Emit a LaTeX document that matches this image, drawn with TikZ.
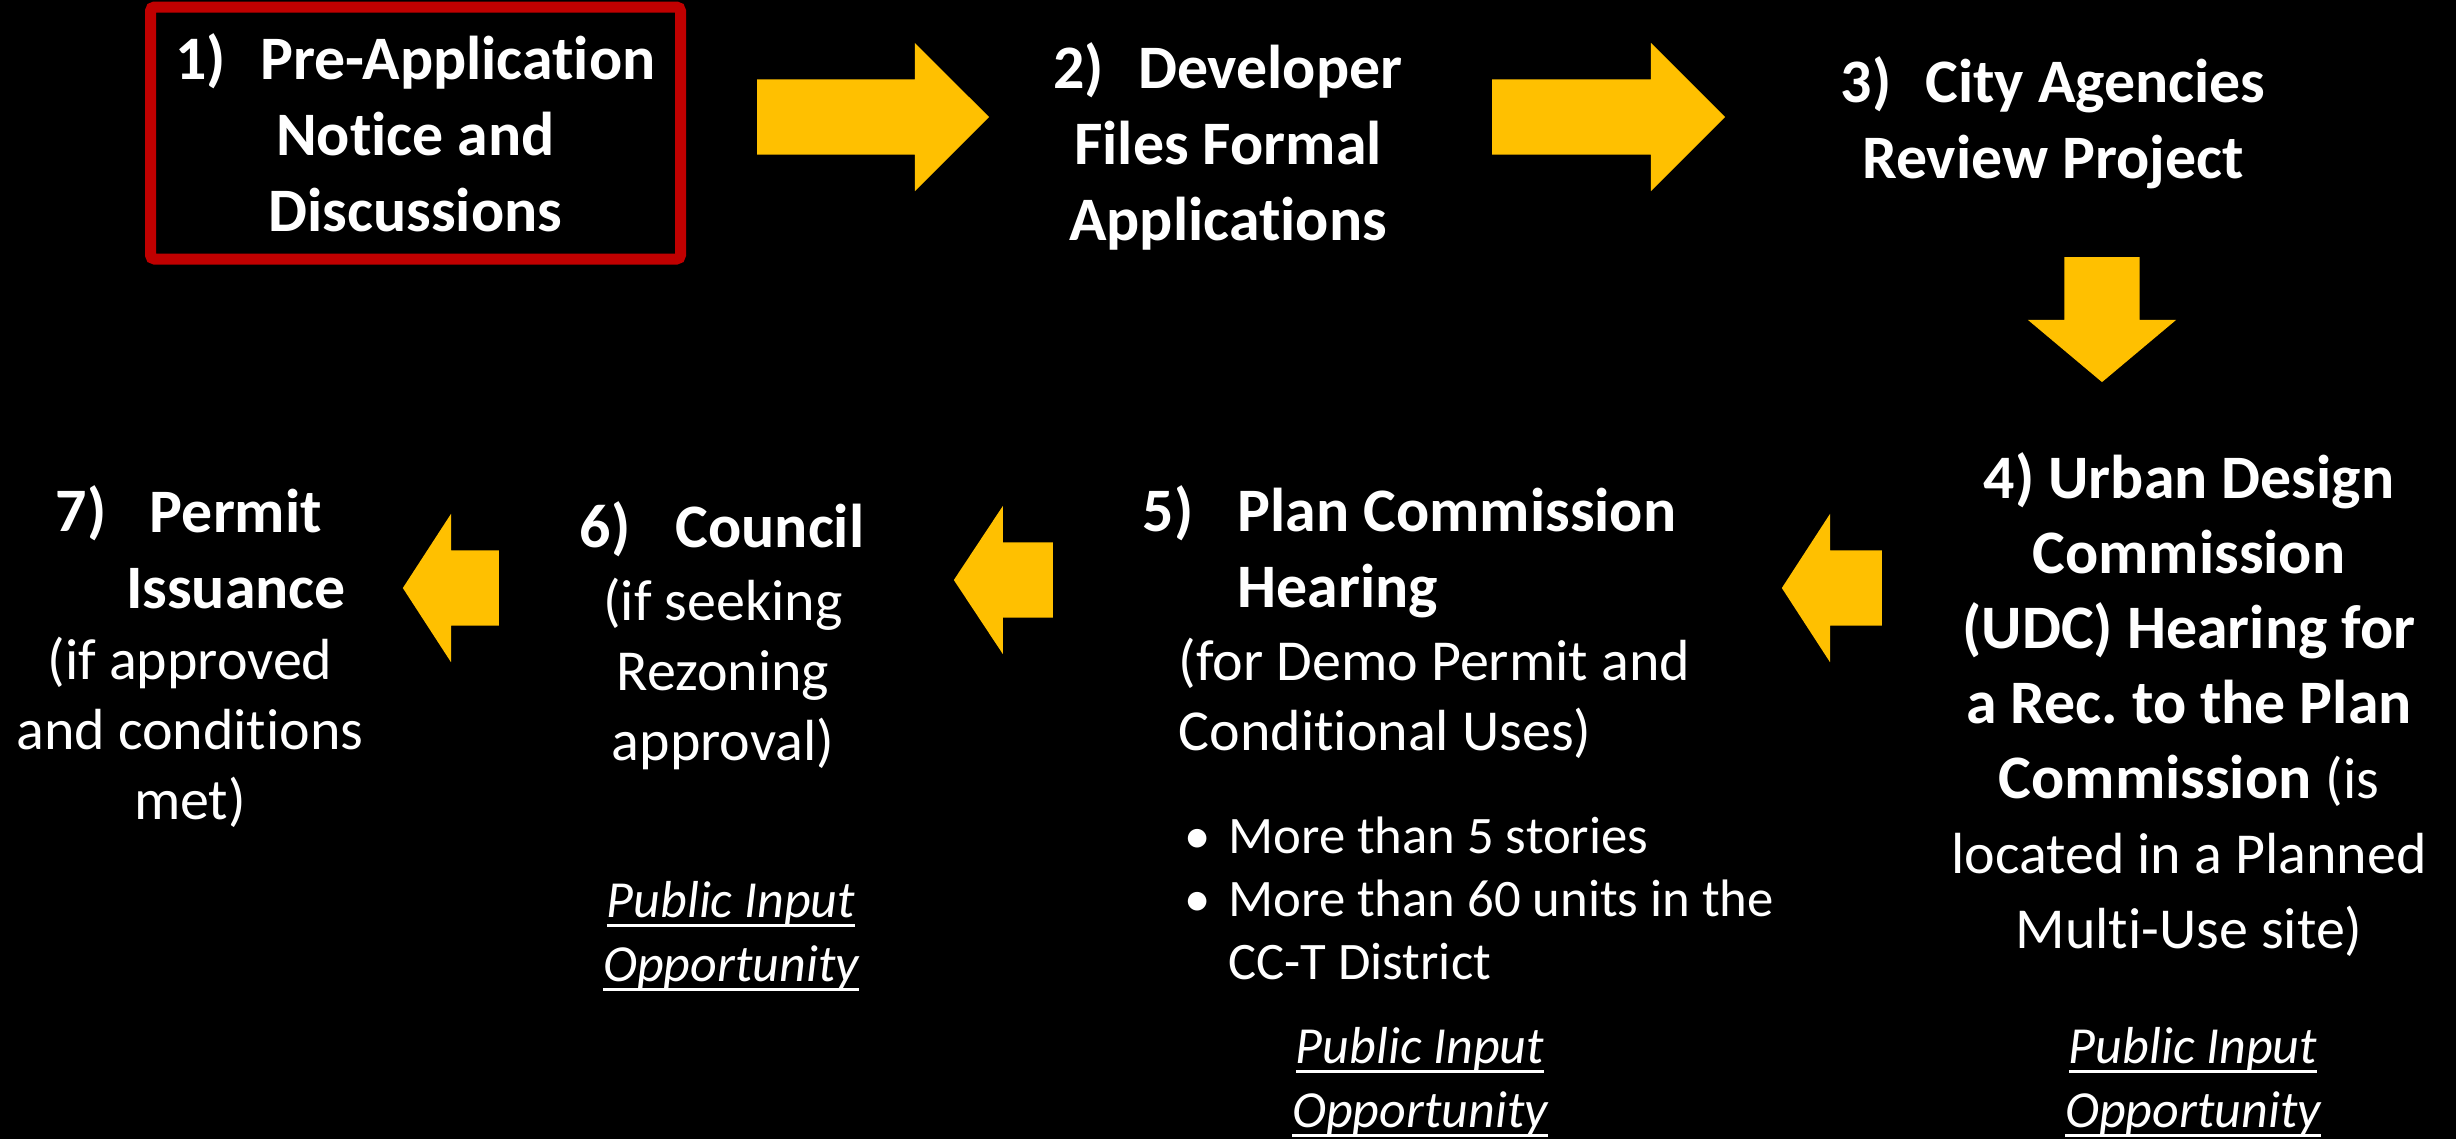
\documentclass[tikz,border=0pt]{standalone}
\usepackage{fontspec}
\setmainfont{Carlito}[Ligatures={NoCommon,NoRequired,NoContextual}]
\usepackage{tikz}
\usetikzlibrary{shapes.arrows, positioning}
\definecolor{arrowgold}{RGB}{255,192,0}
\definecolor{boxred}{RGB}{192,0,0}
\frenchspacing
% underline that runs through the descenders
\newcommand{\pubul}[1]{\setbox0=\hbox{#1}\rlap{\rule[-0.2em]{\wd0}{0.07em}}\box0}
\newcommand{\stepnote}[1]{{\mdseries\fontsize{16.5}{21.3}\selectfont #1}}

\tikzset{
  headtext/.style={text=white, inner sep=0pt, font=\bfseries\fontsize{17.6}{21.6}\selectfont},
  bodytext/.style={text=white, inner sep=0pt, font=\fontsize{16.5}{19.9}\selectfont},
  listtext/.style={text=white, inner sep=0pt, font=\fontsize{15}{17.9}\selectfont},
  pubtext/.style={text=white, inner sep=0pt, align=center, font=\itshape\fontsize{14.8}{18.2}\selectfont},
  stepbox/.style={draw=boxred, line width=0.11cm, rounded corners=0.04cm,
    minimum width=5.30cm, minimum height=2.52cm},
  yarrow/.style={single arrow, fill=arrowgold, draw=none, inner xsep=0pt, inner ysep=0.37cm,
    minimum width=1.47cm, single arrow head extend=0.365cm, single arrow head indent=0pt}
}

\begin{document}
\begin{tikzpicture}
  % background
  \fill[black] (0,0) rectangle (24.56,-11.39);
  \useasboundingbox (0,0) rectangle (24.56,-11.39);

  % top row: steps 1 to 3 (multi-line nodes sit on their last baseline)
  \node[stepbox, headtext, align=center] (s1) at (4.155,-1.33)
    {1)\hspace{0.55em}Pre-Application\\Notice and\\Discussions};
  \node[headtext, align=center, anchor=base] (s2) at (12.28,-2.40)
    {2)\hspace{0.55em}Developer\\Files Formal\\Applications};
  \node[headtext, align=center, anchor=base] (s3) at (20.53,-1.78)
    {3)\hspace{0.55em}City Agencies\\Review Project};

  % step 4 (UDC)
  \node[headtext, align=center, anchor=base, font=\bfseries\fontsize{17.6}{21.3}\selectfont] (s4) at (21.89,-9.48)
    {4) Urban Design\\Commission\\(UDC) Hearing for\\a Rec. to the Plan\\Commission \stepnote{(is}\\
     \stepnote{located in a Planned}\\\stepnote{Multi-Use site)}};
  \node[pubtext, anchor=base] (p4) at (21.93,-11.27) {\pubul{Public Input}\\\pubul{Opportunity}};

  % step 5 (plan commission)
  \node[headtext, anchor=base west] (n5) at (11.42,-5.31) {5)};
  \node[headtext, align=left, anchor=base west] (s5) at (12.37,-6.07) {Plan Commission\\Hearing};
  \node[bodytext, align=left, anchor=base west] (d5) at (11.78,-7.50)
    {(for Demo Permit and\\Conditional Uses)};
  \node[listtext, align=left, anchor=base west] (l5) at (11.84,-9.79)
    {\makebox[0.83em][l]{\textbullet}More than 5 stories\\
     \makebox[0.83em][l]{\textbullet}More than 60 units in the\\
     \hspace*{0.83em}CC-T District};
  \node[pubtext, anchor=base] (p5) at (14.20,-11.27) {\pubul{Public Input}\\\pubul{Opportunity}};

  % step 6 (council)
  \node[headtext, anchor=base west] (n6) at (5.79,-5.47) {6)};
  \node[headtext, anchor=base] (s6) at (7.70,-5.47) {Council};
  \node[bodytext, align=center, anchor=base] (d6) at (7.23,-7.60) {(if seeking\\Rezoning\\approval)};
  \node[pubtext, anchor=base] (p6) at (7.31,-9.81) {\pubul{Public Input}\\\pubul{Opportunity}};

  % step 7 (permit)
  \node[headtext, anchor=base west] (n7) at (0.55,-5.31) {7)};
  \node[headtext, align=center, anchor=base] (s7) at (2.36,-6.08) {Permit\\Issuance};
  \node[bodytext, align=center, anchor=base] (d7) at (1.90,-8.19) {(if approved\\and conditions\\met)};

  % block arrows
  \node[yarrow, minimum height=2.32cm, single arrow tip angle=90, anchor=tip] (a12) at (9.90,-1.17) {};
  \node[yarrow, minimum height=2.33cm, single arrow tip angle=90, anchor=tip] (a23) at (17.26,-1.17) {};
  \node[yarrow, minimum height=1.25cm, single arrow tip angle=100, shape border rotate=270,
    inner xsep=0.37cm, inner ysep=0pt, anchor=tip] (a34) at (21.02,-3.83) {};
  \node[yarrow, minimum height=1.00cm, single arrow tip angle=114, shape border rotate=180, anchor=tip] (a45) at (17.81,-5.88) {};
  \node[yarrow, minimum height=0.99cm, single arrow tip angle=113, shape border rotate=180, anchor=tip] (a56) at (9.53,-5.80) {};
  \node[yarrow, minimum height=0.96cm, single arrow tip angle=114, shape border rotate=180, anchor=tip] (a67) at (4.02,-5.88) {};
\end{tikzpicture}
\end{document}
